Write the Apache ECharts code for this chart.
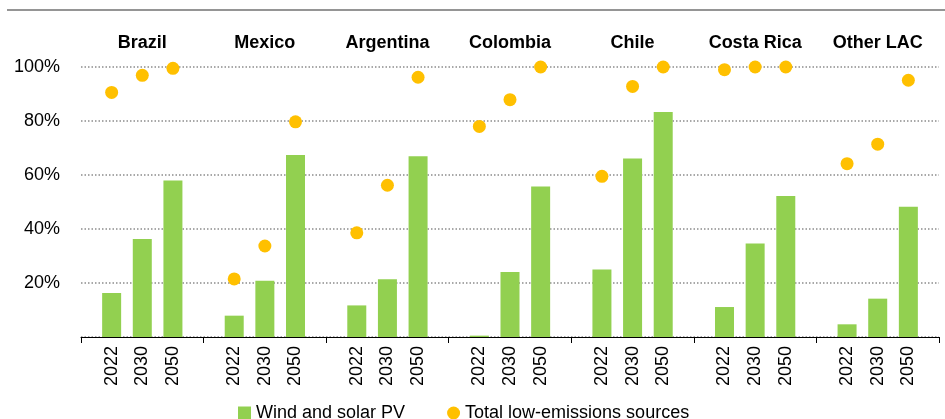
<!DOCTYPE html>
<html>
<head>
<meta charset="utf-8">
<script src="https://cdn.jsdelivr.net/npm/echarts@6/dist/echarts.min.js"></script>
<style>
  html, body { margin: 0; padding: 0; background: #fff; }
  #chart { width: 945px; height: 419px; }
</style>
</head>
<body>
<div id="chart"></div>
<script>
// ---- data ----
const regions = ['Brazil', 'Mexico', 'Argentina', 'Colombia', 'Chile', 'Costa Rica', 'Other LAC'];
const years = ['2022', '2030', '2050'];
const windSolar = [
  [16.3, 36.3, 58.0],   // Brazil
  [7.9, 20.8, 67.4],    // Mexico
  [11.7, 21.4, 66.9],   // Argentina
  [0.5, 24.1, 55.7],    // Colombia
  [25.0, 66.1, 83.3],   // Chile
  [11.1, 34.6, 52.2],   // Costa Rica
  [4.7, 14.2, 48.2]     // Other LAC
];
const lowEmissions = [
  [90.6, 96.9, 99.5],
  [21.5, 33.7, 79.7],
  [38.6, 56.2, 96.2],
  [78.0, 87.9, 100],
  [59.5, 92.8, 100],
  [99.0, 100, 100],
  [64.2, 71.4, 95.1]
];
const yTicks = [0, 20, 40, 60, 80, 100];
const seriesNames = ['Wind and solar PV', 'Total low-emissions sources'];

// ---- build category axis: blank separator, 3 years, blank separator, ... ----
const cats = [''];
const barData = [null];
const dotData = [null];
regions.forEach((r, g) => {
  years.forEach((y, i) => {
    cats.push(y);
    barData.push(windSolar[g][i]);
    dotData.push(lowEmissions[g][i]);
  });
  cats.push('');
  barData.push(null);
  dotData.push(null);
});

const FONT = '"Liberation Sans", Arial, sans-serif';
const chart = echarts.init(document.getElementById('chart'), null, { renderer: 'canvas' });
chart.setOption({
  animation: false,
  backgroundColor: '#ffffff',
  textStyle: { fontFamily: FONT },
  graphic: [{
    type: 'line',
    shape: { x1: 7, y1: 10, x2: 945, y2: 10 },
    style: { stroke: '#959595', lineWidth: 2 }
  }],
  grid: { left: 81, right: 6, top: 67, bottom: 82, containLabel: false },
  legend: {
    left: 233, top: 399,
    itemWidth: 13, itemHeight: 13, itemGap: 42,
    textStyle: { fontFamily: FONT, fontSize: 18, color: '#000' },
    data: [
      { name: seriesNames[0], icon: 'rect' },
      { name: seriesNames[1], icon: 'circle' }
    ]
  },
  xAxis: [{
    type: 'category',
    data: cats,
    boundaryGap: false,
    position: 'bottom',
    axisLine: { lineStyle: { color: '#000', width: 1 } },
    axisTick: {
      show: true, length: 6,
      interval: (idx) => idx % 4 === 0,
      lineStyle: { color: '#000' }
    },
    axisLabel: {
      interval: 0, rotate: 90, margin: 9,
      fontSize: 18, color: '#000', fontFamily: FONT
    },
    splitLine: { show: false }
  }, {
    type: 'category',
    data: regions,
    position: 'top',
    boundaryGap: true,
    axisLine: { show: false },
    axisTick: { show: false },
    axisLabel: {
      interval: 0, margin: 15,
      fontSize: 18, fontWeight: 'bold', color: '#000', fontFamily: FONT
    }
  }],
  yAxis: {
    type: 'value',
    min: yTicks[0], max: yTicks[yTicks.length - 1], interval: 20,
    axisLine: { show: false },
    axisTick: { show: false },
    axisLabel: {
      margin: 21, fontSize: 18, color: '#000', fontFamily: FONT,
      formatter: (v) => v === 0 ? '' : v + '%'
    },
    splitLine: { lineStyle: { color: '#8c8c8c', width: 1.5, type: [1.5, 2] } }
  },
  series: [{
    name: seriesNames[0],
    type: 'bar',
    xAxisIndex: 0,
    data: barData,
    barWidth: 19,
    itemStyle: { color: '#92D050' }
  }, {
    name: seriesNames[1],
    type: 'scatter',
    xAxisIndex: 0,
    data: dotData,
    symbol: 'circle',
    symbolSize: 13,
    itemStyle: { color: '#FFC000', opacity: 1 },
    z: 3
  }]
});
</script>
</body>
</html>
